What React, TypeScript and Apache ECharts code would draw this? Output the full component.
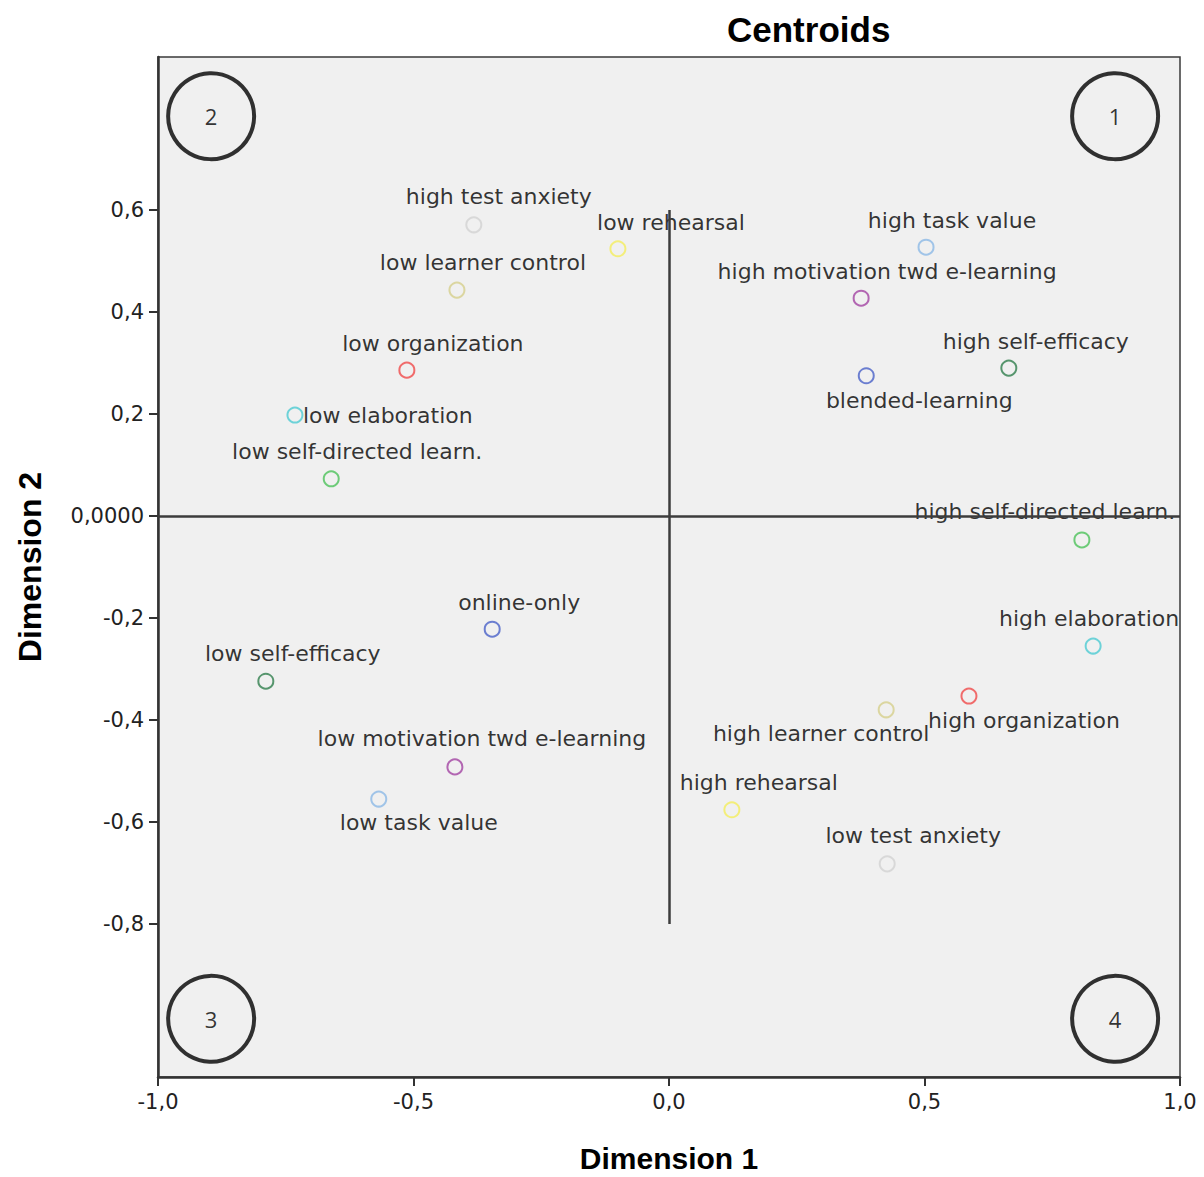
import React, { useEffect, useRef } from "react";
import * as echarts from "echarts";

// ---- data ----
const pointNames = [
  "high test anxiety",
  "low rehearsal",
  "low learner control",
  "low organization",
  "low elaboration",
  "low self-directed learn.",
  "high task value",
  "high motivation twd e-learning",
  "blended-learning",
  "high self-efficacy",
  "high self-directed learn.",
  "high elaboration",
  "high organization",
  "high learner control",
  "high rehearsal",
  "low test anxiety",
  "online-only",
  "low self-efficacy",
  "low motivation twd e-learning",
  "low task value",
];
const dimension1 = [
  -0.382, -0.1, -0.415, -0.513, -0.732, -0.661, 0.503, 0.376, 0.386, 0.665,
  0.808, 0.83, 0.587, 0.425, 0.123, 0.427, -0.346, -0.789, -0.419, -0.568,
];
const dimension2 = [
  0.571, 0.524, 0.443, 0.286, 0.198, 0.073, 0.527, 0.427, 0.275, 0.29,
  -0.047, -0.255, -0.353, -0.38, -0.576, -0.682, -0.222, -0.324, -0.492, -0.555,
];
const variableOf = [
  "anxiety", "rehearsal", "control", "organization", "elaboration", "selfdirected",
  "taskvalue", "motivation", "group", "selfefficacy", "selfdirected", "elaboration",
  "organization", "control", "rehearsal", "anxiety", "group", "selfefficacy",
  "motivation", "taskvalue",
];
const xTicks = [-1, -0.5, 0, 0.5, 1];
const yTicks = [-0.8, -0.6, -0.4, -0.2, 0, 0.2, 0.4, 0.6];
const quadrantNames = ["1", "2", "3", "4"];
const quadrantX = [0.873, -0.896, -0.896, 0.873];
const quadrantY = [0.784, 0.784, -0.986, -0.986];

// ---- styles ----
const variableColors: Record<string, string> = {
  anxiety: "#d2d2d2",
  rehearsal: "#f4ee5c",
  control: "#d6cf8c",
  organization: "#f04a4a",
  elaboration: "#4ccad2",
  selfdirected: "#4cc25a",
  taskvalue: "#8cb9e6",
  motivation: "#a244a2",
  group: "#4a62c8",
  selfefficacy: "#2f7e4c",
};
// label placement relative to the marker centre: [dx, dy, align]
const labelPlacement: [number, number, string][] = [
  [25, -28, "center"],
  [53, -26, "center"],
  [26, -28, "center"],
  [26, -27, "center"],
  [8, 0, "left"],
  [26, -27, "center"],
  [26, -27, "center"],
  [26, -27, "center"],
  [53, 25, "center"],
  [27, -27, "center"],
  [-37, -28, "center"],
  [-4, -28, "center"],
  [55, 24, "center"],
  [-65, 24, "center"],
  [27, -27, "center"],
  [26, -28, "center"],
  [27, -27, "center"],
  [27, -28, "center"],
  [27, -28, "center"],
  [40, 23, "center"],
];

const comma = (v: number, digits: number) => v.toFixed(digits).replace(".", ",");

export default function App() {
  const ref = useRef<HTMLDivElement>(null);
  useEffect(() => {
    if (!ref.current) return;
    const chart = echarts.init(ref.current, undefined, { renderer: "svg" });
    const pointData = pointNames.map((name, i) => {
      const [dx, dy, align] = labelPlacement[i];
      const c = variableColors[variableOf[i]];
      return {
        name,
        value: [dimension1[i], dimension2[i]],
        itemStyle: { color: "#f0f0f0", borderColor: c, borderWidth: 2 },
        label: {
          show: true,
          position: "inside",
          offset: [dx, dy],
          align,
          verticalAlign: "middle",
          formatter: name,
          color: "#000",
          fontSize: 22,
          fontFamily: "DejaVu Sans",
        },
      };
    });
    const quadData = quadrantNames.map((n, i) => ({
      name: n,
      value: [quadrantX[i], quadrantY[i]],
    }));
    chart.setOption({
      animation: false,
      backgroundColor: "#ffffff",
      title: {
        text: "Centroids",
        left: 722,
        top: 7,
        textStyle: {
          fontFamily: "Liberation Sans",
          fontWeight: "bold",
          fontSize: 35,
          color: "#000",
        },
      },
      grid: {
        left: 158,
        top: 57,
        width: 1022,
        height: 1020,
        outerBoundsMode: "none",
        containLabel: false,
        show: true,
        backgroundColor: "#f0f0f0",
        borderColor: "#3a3a3a",
        borderWidth: 1.5,
      },
      xAxis: {
        type: "value",
        min: -1,
        max: 1,
        interval: 0.5,
        name: "Dimension 1",
        nameLocation: "middle",
        nameGap: 67,
        nameTextStyle: {
          fontFamily: "Liberation Sans",
          fontWeight: "bold",
          fontSize: 30,
          lineHeight: 29,
          color: "#000",
        },
        axisLine: { show: true, onZero: false, lineStyle: { color: "#333", width: 2.5 } },
        axisTick: { show: true, length: 9, lineStyle: { color: "#333", width: 2 } },
        axisLabel: {
          customValues: xTicks,
          margin: 14,
          fontFamily: "DejaVu Sans",
          fontSize: 21,
          color: "#222",
          formatter: (v: number) => comma(v, 1),
        },
        splitLine: { show: false },
      },
      yAxis: {
        type: "value",
        min: -1.1,
        max: 0.9,
        name: "Dimension 2",
        nameLocation: "middle",
        nameGap: 112,
        nameTextStyle: {
          fontFamily: "Liberation Sans",
          fontWeight: "bold",
          fontSize: 32,
          color: "#000",
        },
        axisLine: { show: true, onZero: false, lineStyle: { color: "#333", width: 2.5 } },
        axisTick: { show: true, length: 9, customValues: yTicks, lineStyle: { color: "#333", width: 2 } },
        axisLabel: {
          customValues: yTicks,
          margin: 14,
          fontFamily: "DejaVu Sans",
          fontSize: 21,
          color: "#222",
          formatter: (v: number) =>
            Math.abs(v) < 1e-9 ? "0,0000" : comma(v, 1),
        },
        splitLine: { show: false },
      },
      series: [
        {
          type: "scatter",
          data: quadData,
          symbol: "circle",
          symbolSize: 86,
          z: 1,
          itemStyle: { color: "rgba(0,0,0,0)", borderColor: "#000", borderWidth: 4 },
          label: {
            show: true,
            position: "inside",
            formatter: "{b}",
            color: "#000",
            fontSize: 22,
            fontFamily: "Open Sans",
          },
          silent: true,
        },
        {
          type: "scatter",
          data: pointData,
          symbol: "circle",
          symbolSize: 15,
          z: 3,
          markLine: {
            silent: true,
            symbol: "none",
            label: { show: false },
            lineStyle: { color: "#3c3c3c", width: 2.5, type: "solid" },
            data: [
              [{ coord: [-1, 0] }, { coord: [1, 0] }],
              [{ coord: [0, 0.6] }, { coord: [0, -0.8] }],
            ],
          },
        },
      ],
    });
    return () => chart.dispose();
  }, []);
  return (
    <div
      ref={ref}
      style={{ position: "absolute", left: 0, top: 0, width: 1204, height: 1177 }}
    />
  );
}
